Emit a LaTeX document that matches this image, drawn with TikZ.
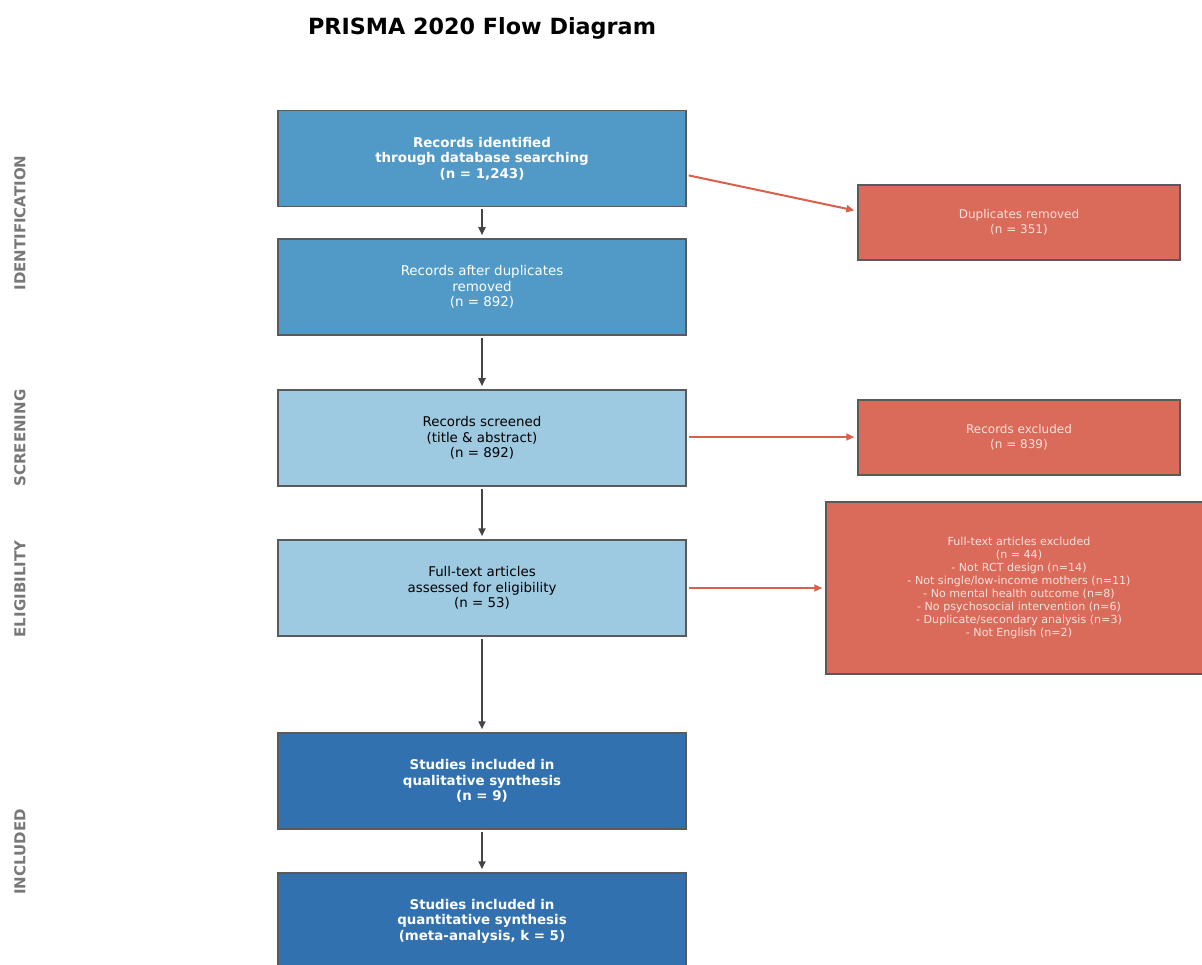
\documentclass[tikz,border=0pt]{standalone}
\usepackage{fontspec}
\setmainfont{DejaVu Sans}
\usetikzlibrary{arrows.meta,calc}
\definecolor{midblue}{HTML}{519AC7}
\definecolor{lightblue}{HTML}{9DC9E1}
\definecolor{darkblue}{HTML}{3171B0}
\definecolor{exred}{HTML}{DA6B5A}
\definecolor{edgegray}{HTML}{5A5A5A}
\definecolor{arrowgray}{HTML}{444444}
\definecolor{arrowred}{HTML}{D9604A}
\definecolor{labelgray}{HTML}{787878}
\definecolor{redtext}{HTML}{F7E1DC}
\tikzset{
  box/.style={draw=edgegray, line width=1.5pt, minimum width=408pt, minimum height=96pt, align=center, inner sep=0pt,
    font=\fontsize{13.4}{15.5}\selectfont},
  exbox/.style={draw=edgegray, line width=1.5pt, fill=exred, text=redtext, align=center, inner sep=0pt,
    font=\fontsize{12}{15}\selectfont},
  flow/.style={draw=arrowgray, line width=2pt, -{Triangle[length=8pt,width=7pt]}, shorten <=2pt, shorten >=3pt},
  exflow/.style={draw=arrowred, line width=2pt, -{Triangle[length=8pt,width=7pt]}, shorten <=2pt, shorten >=3pt},
  phase/.style={rotate=90, text=labelgray, font=\fontsize{15}{17}\selectfont\bfseries},
}
\begin{document}
\begin{tikzpicture}[x=1pt,y=-1pt]
\useasboundingbox (0,0) rectangle (1202,965);
\clip (0,0) rectangle (1202,965);
\node[font=\fontsize{22.3}{26}\selectfont\bfseries] (title) at (482,28) {PRISMA 2020 Flow Diagram};

\node[phase] (p1) at (20,223) {IDENTIFICATION};
\node[phase] (p2) at (20,438) {SCREENING};
\node[phase] (p3) at (20,589) {ELIGIBILITY};
\node[phase] (p4) at (20,852) {INCLUDED};

\node[box, fill=midblue, text=white, font=\fontsize{13.4}{15.5}\selectfont\bfseries] (b1) at (482,158.5)
  {Records identified\\through database searching\\(n = 1,243)};
\node[box, fill=midblue, text=white] (b2) at (482,287)
  {Records after duplicates\\removed\\(n = 892)};
\node[box, fill=lightblue, text=black] (b3) at (482,438)
  {Records screened\\(title \& abstract)\\(n = 892)};
\node[box, fill=lightblue, text=black] (b4) at (482,588)
  {Full-text articles\\assessed for eligibility\\(n = 53)};
\node[box, fill=darkblue, text=white, font=\fontsize{13.4}{15.5}\selectfont\bfseries] (b5) at (482,781)
  {Studies included in\\qualitative synthesis\\(n = 9)};
\node[box, fill=darkblue, text=white, font=\fontsize{13.4}{15.5}\selectfont\bfseries] (b6) at (482,921)
  {Studies included in\\quantitative synthesis\\(meta-analysis, k = 5)};

\node[exbox, minimum width=322pt, minimum height=75pt] (r1) at (1019,222.5)
  {Duplicates removed\\(n = 351)};
\node[exbox, minimum width=322pt, minimum height=75pt] (r2) at (1019,437.5)
  {Records excluded\\(n = 839)};
\node[exbox, minimum width=386pt, minimum height=172pt, font=\fontsize{11.1}{12.9}\selectfont] (r3) at (1019,588)
  {Full-text articles excluded\\(n = 44)\\- Not RCT design (n=14)\\- Not single/low-income mothers (n=11)\\- No mental health outcome (n=8)\\- No psychosocial intervention (n=6)\\- Duplicate/secondary analysis (n=3)\\- Not English (n=2)};

\draw[flow] (b1) -- (b2);
\draw[flow] (b2) -- (b3);
\draw[flow] (b3) -- (b4);
\draw[flow] (b4) -- (b5);
\draw[flow] (b5) -- (b6);

\draw[exflow] ([yshift=-16.5pt]b1.east) -- ([yshift=11.5pt]r1.west);
\draw[exflow] ([yshift=1pt]b3.east) -- ([yshift=0.5pt]r2.west);
\draw[exflow] (b4.east) -- (r3.west);
\end{tikzpicture}
\end{document}
